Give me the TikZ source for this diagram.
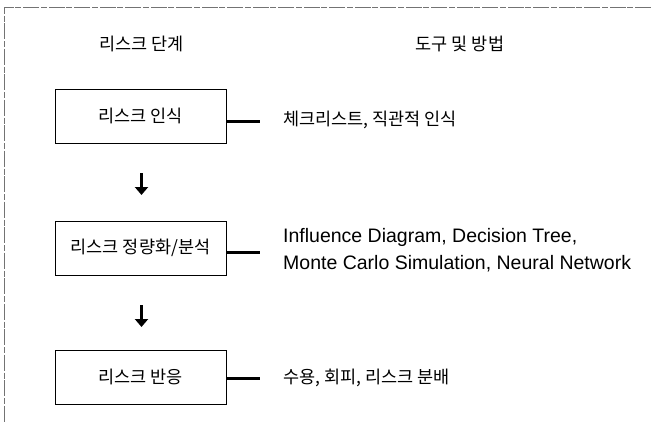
\documentclass[tikz,border=0pt]{standalone}
\usepackage{fontspec}
\setmainfont{Noto Sans CJK KR}
\newfontfamily\latinfont{Liberation Sans}
\usetikzlibrary{arrows.meta}
\begin{document}
\begin{tikzpicture}[x=1pt,y=-1pt,
  kfont/.style={font=\fontsize{17.5}{20}\selectfont},
  stage/.style={draw,line width=1pt,minimum width=171pt,minimum height=54pt,inner sep=0pt,kfont},
  tool/.style={anchor=west,inner sep=0pt,align=left,kfont},
  head/.style={inner sep=0pt,kfont},
  link/.style={line width=3pt},
  flow/.style={line width=3.5pt,-{Triangle[width=13pt,length=8pt]}},
  frame/.style={draw=black!55,line width=0.7pt,dash pattern=on 16pt off 2pt on 6pt off 1.5pt}]
\useasboundingbox (0,0) rectangle (651,423);
\draw[frame] (651,7) -- (4,7) -- (4,423);
\node[head] (h1) at (141.5,44) {리스크 단계};
\node[head] (h2) at (460,44) {도구 및 방법};
\node[stage] (b1) at (140.5,116) {리스크 인식};
\node[stage] (b2) at (140.5,248) {리스크 정량화/분석};
\node[stage] (b3) at (140.5,377) {리스크 반응};
\node[tool] (t1) at (283,120) {체크리스트, 직관적 인식};
\node[tool,font=\latinfont\fontsize{19.5}{27}\selectfont] (t2) at (283,250) {Influence Diagram, Decision Tree,\\Monte Carlo Simulation, Neural Network};
\node[tool] (t3) at (283,378) {수용, 회피, 리스크 분배};
\coordinate (e1) at (260,121);
\coordinate (e2) at (260,252);
\coordinate (e3) at (260,378);
\draw[link] (b1.east |- e1) -- (e1);
\draw[link] (b2.east |- e2) -- (e2);
\draw[link] (b3.east |- e3) -- (e3);
\coordinate (a1s) at (141.5,173);
\coordinate (a1e) at (141.5,195);
\coordinate (a2s) at (141.5,305);
\coordinate (a2e) at (141.5,327);
\draw[flow] (a1s) -- (a1e);
\draw[flow] (a2s) -- (a2e);
\end{tikzpicture}
\end{document}
